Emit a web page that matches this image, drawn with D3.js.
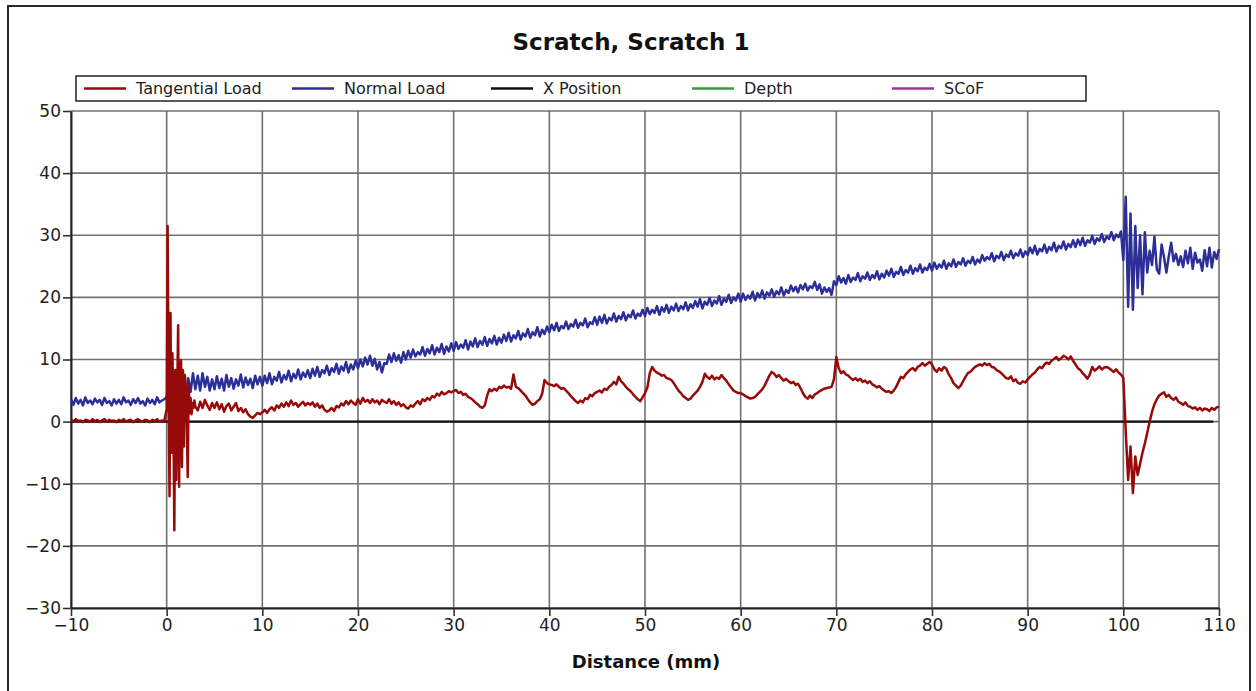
<!DOCTYPE html>
<html><head><meta charset="utf-8">
<script src="https://cdn.jsdelivr.net/npm/d3@7"></script>
<style>body{margin:0;background:#fff} svg{display:block}</style>
</head><body><svg id="c" width="1256" height="691"></svg>
<script>
// ---------- data ----------
const chartTitle = "Scratch, Scratch 1";
const xAxisTitle = "Distance (mm)";
const xTicks = [-10,0,10,20,30,40,50,60,70,80,90,100,110];
const yTicks = [-30,-20,-10,0,10,20,30,40,50];
const legendNames = ["Tangential Load","Normal Load","X Position","Depth","SCoF"];
const legendColors = ["#960a0a","#2c2f98","#111111","#3c9a3c","#9a35a0"];

// Normal Load sampled every 0.25 mm from -10 mm
const normalStart = -10, normalStep = 0.25;
const normalLoad = [
3.6,2.7,3.8,2.9,3.5,2.6,3.9,3.0,3.4,2.8,3.7,3.1,3.5,2.7,3.8,3.0,3.3,2.6,3.6,2.9,
3.5,2.8,3.9,3.1,3.4,2.7,3.6,3.0,3.8,2.9,3.3,2.6,3.7,3.0,3.5,2.8,3.9,3.1,3.4,3.6,
4.0,6.0,2.5,5.8,1.5,6.2,2.8,7.6,3.6,7.0,4.8,7.8,5.2,7.4,5.0,7.8,5.6,7.2,5.0,6.8,
5.2,7.3,5.4,6.9,5.0,7.5,5.6,7.0,5.3,6.8,5.8,7.6,5.5,7.1,5.9,6.9,5.4,7.4,6.0,7.2,
5.8,7.4,6.2,7.8,6.0,7.2,6.6,8.0,6.3,7.5,6.8,8.2,6.5,7.7,7.0,8.4,6.8,7.9,7.2,8.3,
7.0,8.5,7.4,8.8,7.2,8.3,7.8,9.0,7.5,8.6,8.0,9.3,7.7,8.9,8.2,9.6,7.9,9.2,8.4,9.8,
8.6,10.0,8.9,10.3,9.2,10.6,9.0,10.1,8.4,9.6,7.9,9.4,9.3,10.8,9.6,11.0,9.8,10.7,9.5,11.2,
10.0,11.4,10.3,11.6,10.5,11.2,10.8,12.0,10.6,11.7,11.0,12.3,10.8,11.9,11.2,12.5,10.9,12.1,11.3,12.6,
11.4,12.8,11.7,12.4,11.9,13.1,11.6,12.9,12.1,13.4,12.0,13.0,12.4,13.6,12.2,13.3,12.6,13.8,12.4,13.5,
12.7,14.0,13.0,14.3,12.9,13.9,13.4,14.6,13.2,14.2,13.7,14.9,13.5,14.4,13.9,15.2,13.7,14.8,14.1,15.3,
14.4,15.6,14.7,15.9,14.6,15.4,15.0,16.1,14.9,15.7,15.3,16.4,15.1,15.9,15.5,16.6,15.2,16.0,15.7,16.8,
15.6,16.9,15.9,17.2,15.8,16.7,16.3,17.4,16.1,17.0,16.5,17.6,16.3,17.2,16.8,17.9,16.6,17.4,17.0,18.0,
17.0,18.3,17.3,18.0,17.5,18.6,17.2,18.4,17.7,18.8,17.5,18.5,17.9,19.0,17.8,18.6,18.1,19.2,17.9,18.9,
18.3,19.4,18.5,19.7,18.2,19.3,18.8,19.9,18.6,19.5,19.0,20.2,18.8,19.8,19.3,20.4,19.1,20.0,19.5,20.6,
19.3,20.6,19.6,20.3,19.8,20.9,19.5,20.7,20.0,21.1,19.8,20.8,20.3,21.3,20.1,21.0,20.5,21.6,20.3,21.2,
20.7,21.9,21.0,21.7,20.8,22.0,21.3,22.2,21.1,21.8,21.5,22.5,21.2,22.1,20.6,21.6,20.9,21.5,20.4,22.6,
22.0,23.4,22.4,23.1,22.2,23.6,22.5,23.2,22.8,23.9,22.6,23.4,23.0,24.0,22.8,23.6,23.1,24.2,22.9,23.8,
23.2,24.3,23.5,24.6,23.3,24.1,23.8,24.9,23.6,24.4,24.0,25.1,23.8,24.7,24.2,25.3,24.0,24.8,24.4,25.4,
24.3,25.6,24.6,25.3,24.8,25.9,24.6,25.5,25.0,26.1,24.9,25.7,25.3,26.3,25.1,25.9,25.5,26.5,25.3,26.1,
25.6,26.8,25.9,26.5,26.1,27.1,25.8,26.7,26.3,27.3,26.0,26.9,26.5,27.5,26.3,27.1,26.7,27.7,26.5,27.4,
26.8,28.0,27.1,28.3,26.9,27.8,27.4,28.5,27.2,28.1,27.6,28.8,27.4,28.3,27.9,29.0,27.7,28.6,28.1,29.2,
28.1,29.3,28.4,29.6,28.3,29.2,28.8,29.9,28.6,29.5,29.1,30.2,28.9,29.8,29.4,30.5,29.2,30.1,29.7,30.6,
26.0,36.2,18.5,33.5,18.0,31.5,21.5,30.0,20.5,30.5,24.0,27.5,25.2,29.8,24.5,23.8,28.5,26.5,24.0,26.6,
28.8,25.8,27.0,25.2,26.6,24.9,27.5,25.5,28.0,24.6,27.2,25.6,26.1,24.3,27.6,25.0,28.0,24.8,27.3,26.2,
27.8];

// Tangential Load: before contact (every 0.25 mm from -10), contact spike (every 0.1 mm from 0), after (every 0.25 mm from 3)
const tangentialPreStart = -10, tangentialPreStep = 0.25;
const tangentialPre = [
0.3,0.0,0.4,0.1,0.2,-0.1,0.3,0.2,0.0,0.4,0.1,0.3,-0.1,0.2,0.4,0.0,0.3,0.1,0.2,-0.1,
0.3,0.1,0.4,0.0,0.2,0.3,-0.1,0.2,0.4,0.1,0.0,0.3,0.2,-0.1,0.3,0.1,0.4,0.0,0.2,0.1];
const tangentialSpikeStart = 0, tangentialSpikeStep = 0.1;
const tangentialSpike = [
2.0,31.5,5.0,-12.0,17.5,-5.0,11.0,2.0,-17.5,8.3,
-9.4,4.0,15.5,-10.5,6.0,9.9,-7.3,8.3,-4.0,7.5,
5.6,0.3,-8.9,6.0,1.4,3.8,1.2,3.0,2.2,3.4];
const tangentialPostStart = 3, tangentialPostStep = 0.25;
const tangentialPost = [
2.4,1.8,3.2,2.2,3.5,2.6,1.9,3.0,
2.2,3.1,2.0,2.8,1.6,2.5,2.9,1.8,2.4,3.0,1.7,2.2,1.5,2.0,1.2,0.8,0.6,1.0,1.4,1.2,
1.5,1.9,1.4,2.0,2.3,1.8,2.6,2.2,2.9,2.4,3.1,2.5,3.4,2.7,3.0,2.4,2.8,3.2,2.6,3.0,
2.7,3.1,2.4,2.9,2.2,2.6,1.9,1.6,1.8,2.2,1.7,2.5,2.3,2.9,2.6,3.3,2.8,3.4,3.0,2.7,
3.6,2.9,3.8,3.2,3.5,3.0,3.6,3.1,3.4,2.8,3.5,3.2,3.0,3.6,2.9,3.3,2.7,3.1,2.5,2.8,
2.3,2.1,2.6,2.4,2.9,3.3,2.8,3.6,3.3,3.8,3.5,4.1,3.9,4.5,4.2,4.8,4.4,4.6,4.9,4.7,
4.9,5.1,4.6,4.8,4.3,4.5,4.0,3.8,3.5,3.1,2.8,2.4,2.2,2.6,4.2,5.2,4.9,5.3,5.0,5.6,
5.4,5.8,5.5,5.6,5.3,7.6,5.6,5.4,5.0,4.6,4.2,3.6,3.1,2.7,2.9,3.3,3.6,4.5,6.7,6.2,
6.0,5.9,5.7,6.0,5.6,5.3,5.4,5.0,4.6,4.1,3.7,3.3,3.0,3.4,3.1,3.8,3.6,4.3,4.1,4.6,
4.8,5.0,4.7,5.3,5.1,5.6,5.9,6.4,6.0,7.2,6.5,6.1,5.6,5.2,4.9,4.4,4.0,3.6,3.3,3.9,
4.6,5.5,7.8,8.8,8.2,7.9,7.7,7.4,7.5,7.0,6.9,6.7,6.2,5.6,5.0,4.6,4.1,3.8,3.5,3.7,
4.2,4.6,5.0,5.6,6.4,7.7,7.2,6.9,7.4,6.8,7.1,6.9,7.5,7.0,6.6,6.0,5.5,5.0,4.8,4.6,
4.6,4.4,4.1,3.9,3.7,3.8,4.0,4.4,4.8,5.2,5.8,6.6,7.4,8.0,7.7,7.2,7.5,7.0,6.6,6.9,
6.5,6.2,6.4,5.9,6.1,5.4,4.6,4.0,3.7,4.2,3.8,4.4,4.6,4.9,5.1,5.3,5.4,5.5,5.6,6.8,
10.4,8.6,7.8,8.1,7.6,7.4,7.0,6.7,7.0,6.6,6.9,6.4,6.6,6.2,6.5,6.0,5.8,5.5,5.7,5.3,
5.0,4.8,4.9,4.6,5.0,5.6,6.4,7.2,7.0,7.6,8.0,8.4,8.6,8.2,8.8,9.0,9.4,9.0,9.3,9.6,
9.2,8.4,8.0,8.6,8.2,8.8,8.5,7.6,7.0,6.2,5.8,5.4,5.8,6.5,7.2,7.8,8.0,8.4,8.8,9.0,
9.2,9.0,9.4,9.1,9.3,8.8,8.7,8.3,8.1,7.8,7.4,7.0,6.9,7.3,6.5,6.8,6.2,6.1,6.5,6.3,
6.8,7.2,7.6,7.9,8.4,8.8,8.6,9.2,9.5,9.3,9.8,10.1,10.4,9.9,10.2,10.6,10.4,10.0,10.5,9.8,
9.2,8.6,8.3,7.8,7.4,6.9,7.6,8.8,8.2,8.5,8.9,8.4,8.7,8.8,8.6,8.3,8.0,8.4,7.9,7.6,
7.0,-1.5,-9.4,-4.0,-11.5,-5.6,-8.6,-6.8,-5.0,-3.5,-1.8,0.0,1.6,2.8,3.6,4.2,4.5,4.7,4.0,4.3,
3.8,3.5,3.9,3.2,3.0,2.7,3.1,2.5,2.4,2.1,2.3,1.9,2.2,1.8,2.1,2.0,1.7,2.2,1.9,2.3,
2.4];

// X Position trace
const xPositionX = [-10, 109.4];
const xPositionY = [0, 0];

// ---------- build points ----------
const sampled = (start, step, vals) => vals.map((v, i) => [start + i * step, v]);
const normalPts = sampled(normalStart, normalStep, normalLoad);
const tangentialPts = [
  ...sampled(tangentialPreStart, tangentialPreStep, tangentialPre),
  ...sampled(tangentialSpikeStart, tangentialSpikeStep, tangentialSpike),
  ...sampled(tangentialPostStart, tangentialPostStep, tangentialPost)
];
const xPosPts = xPositionX.map((v, i) => [v, xPositionY[i]]);

// ---------- drawing ----------
const svg = d3.select("#c");
const FONT = "'DejaVu Sans', Verdana, sans-serif";
const L = 71, R = 1219, T = 111, B = 608;
const x = d3.scaleLinear().domain([-10, 110]).range([L, R]);
const y = d3.scaleLinear().domain([-30, 50]).range([B, T]);

svg.append("rect").attr("x", 0).attr("y", 0).attr("width", 1256).attr("height", 691).attr("fill", "#fff");
// outer frame
svg.append("rect").attr("x", 8).attr("y", 6).attr("width", 1242).attr("height", 720)
  .attr("fill", "none").attr("stroke", "#2a2a2a").attr("stroke-width", 2);

// title
svg.append("text").attr("x", 631).attr("y", 50).attr("text-anchor", "middle")
  .attr("font-family", FONT).attr("font-weight", "bold").attr("font-size", 23)
  .attr("fill", "#111").text(chartTitle);

// legend
const lg = svg.append("g");
lg.append("rect").attr("x", 76).attr("y", 76).attr("width", 1010).attr("height", 25)
  .attr("fill", "#fff").attr("stroke", "#222").attr("stroke-width", 1.5);
const legendLineX = [84, 292, 491, 692, 892];
legendNames.forEach((n, i) => {
  lg.append("line").attr("x1", legendLineX[i]).attr("x2", legendLineX[i] + 42)
    .attr("y1", 88.5).attr("y2", 88.5).attr("stroke", legendColors[i]).attr("stroke-width", 2.5);
  lg.append("text").attr("x", legendLineX[i] + 52).attr("y", 94)
    .attr("font-family", FONT).attr("font-size", 16).attr("fill", "#222").text(n);
});

// grid
const grid = svg.append("g").attr("stroke", "#707070").attr("stroke-width", 1.6);
xTicks.forEach(t => grid.append("line").attr("x1", x(t)).attr("x2", x(t)).attr("y1", T).attr("y2", B));
yTicks.forEach(t => grid.append("line").attr("x1", L).attr("x2", R).attr("y1", y(t)).attr("y2", y(t)));

// axes
const fmt = d => d3.format("d")(d);
const yAxis = svg.append("g").attr("transform", `translate(${L},0)`)
  .call(d3.axisLeft(y).tickValues(yTicks).tickSize(8).tickSizeOuter(0).tickPadding(2).tickFormat(fmt));
const xAxis = svg.append("g").attr("transform", `translate(0,${B})`)
  .call(d3.axisBottom(x).tickValues(xTicks).tickSize(8).tickSizeOuter(0).tickPadding(3).tickFormat(fmt));
[yAxis, xAxis].forEach(a => {
  a.selectAll("path.domain").attr("stroke", "#222").attr("stroke-width", 2);
  a.selectAll(".tick line").attr("stroke", "#333").attr("stroke-width", 1.6);
  a.selectAll(".tick text").attr("font-family", FONT).attr("font-size", 17).attr("fill", "#222");
});

svg.append("text").attr("x", 646).attr("y", 668).attr("text-anchor", "middle")
  .attr("font-family", FONT).attr("font-weight", "bold").attr("font-size", 18)
  .attr("fill", "#111").text(xAxisTitle);

// series
const line = d3.line().x(d => x(d[0])).y(d => y(d[1]));
svg.append("path").datum(xPosPts).attr("d", line).attr("fill", "none")
  .attr("stroke", legendColors[2]).attr("stroke-width", 2.4);
svg.append("path").datum(normalPts).attr("d", line).attr("fill", "none")
  .attr("stroke", legendColors[1]).attr("stroke-width", 2.5).attr("stroke-linejoin", "round");
svg.append("path").datum(tangentialPts).attr("d", line).attr("fill", "none")
  .attr("stroke", legendColors[0]).attr("stroke-width", 2.5).attr("stroke-linejoin", "round");
</script>
</body></html>
